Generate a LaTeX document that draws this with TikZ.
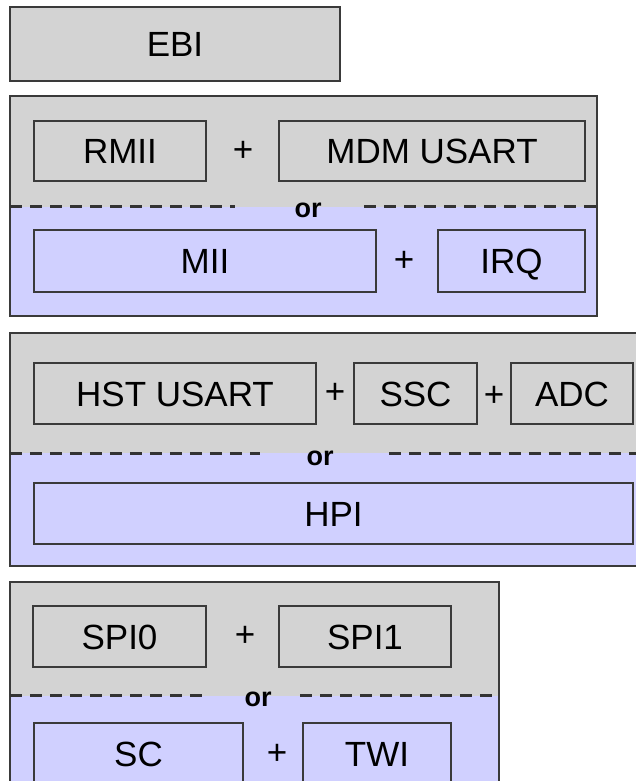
\documentclass[tikz,border=0pt]{standalone}
\usepackage{fontspec}
\setmainfont{Liberation Sans}
\definecolor{boxgray}{HTML}{D3D3D3}
\definecolor{boxblue}{HTML}{D0D0FF}
\definecolor{edgegray}{HTML}{3A3A3A}
\tikzset{
  part/.style 2 args={minimum width=#1pt, minimum height=#2pt},
  split/.style={draw=black!80, line width=3pt, dash pattern=on 12pt off 8pt}
}

\begin{document}
\begin{tikzpicture}[x=1pt,y=-1pt]

      \path[use as bounding box] (0,0) rectangle (636,781);
      \clip (0,0) rectangle (636,781);

      \begin{scope}[draw=edgegray, line width=1.8pt]
        \filldraw[fill=boxgray] (10,7) rectangle (340,81);

        \fill[boxgray] (10,96)  rectangle (597,207);
        \fill[boxblue] (10,207) rectangle (597,316);
        \draw (10,96) rectangle (597,316);

        \fill[boxgray] (10,333) rectangle (645,453);
        \fill[boxblue] (10,453) rectangle (645,566);
        \draw (10,333) rectangle (645,566);

        \fill[boxgray] (10,582) rectangle (499,696);
        \fill[boxblue] (10,696) rectangle (499,820);
        \draw (10,582) rectangle (499,820);
      \end{scope}

      \begin{scope}[every node/.style={draw=edgegray, line width=1.2pt, inner sep=0pt,
          text height=25pt, text depth=0pt, font=\fontsize{35}{40}\selectfont}]
        \node[part={330}{74}, line width=1.8pt] (ebi) at (175,44) {EBI};

        \node[part={172}{60}] (rmii)  at (120,151)   {RMII};
        \node[part={306}{60}] (mdm)   at (432,151)   {MDM USART};
        \node[part={342}{62}] (mii)   at (205,261)   {MII};
        \node[part={147}{62}] (irq)   at (511.5,261) {IRQ};

        \node[part={282}{61}] (hst)   at (175,393.5) {HST USART};
        \node[part={123}{61}] (ssc)   at (415.5,393.5) {SSC};
        \node[part={122}{61}] (adc)   at (572,393.5) {ADC};
        \node[part={599}{61}] (hpi)   at (333.5,513.5) {HPI};

        \node[part={173}{61}] (spi0)  at (119.5,636.5) {SPI0};
        \node[part={172}{61}] (spi1)  at (365,636.5) {SPI1};
        \node[part={209}{62}] (sc)    at (138.5,754) {SC};
        \node[part={148}{62}] (twi)   at (377,754)   {TWI};
      \end{scope}

      \begin{scope}[every node/.style={inner sep=0pt, font=\fontsize{35}{40}\selectfont}]
        \node (p1) at (243,151)   {+};
        \node (p2) at (404,261)   {+};
        \node (p3) at (335,393.5) {+};
        \node (p4) at (494,396)   {+};
        \node (p5) at (245,636.5) {+};
        \node (p6) at (277,754)   {+};
      \end{scope}

      \begin{scope}[every node/.style={inner sep=0pt, anchor=base,
          font=\fontsize{27}{30}\selectfont\bfseries}]
        \node (or1) at (308,217) {or};
        \node (or2) at (320,465) {or};
        \node (or3) at (258,706) {or};
      \end{scope}

      \draw[split] (10,206) -- (235,206);
      \draw[split] (364,206) -- (597,206);
      \draw[split] (10,453) -- (260,453);
      \draw[split] (389,453) -- (640,453);
      \draw[split] (10,695) -- (205,695);
      \draw[split] (300,695) -- (499,695);

    \end{tikzpicture}
\end{document}
